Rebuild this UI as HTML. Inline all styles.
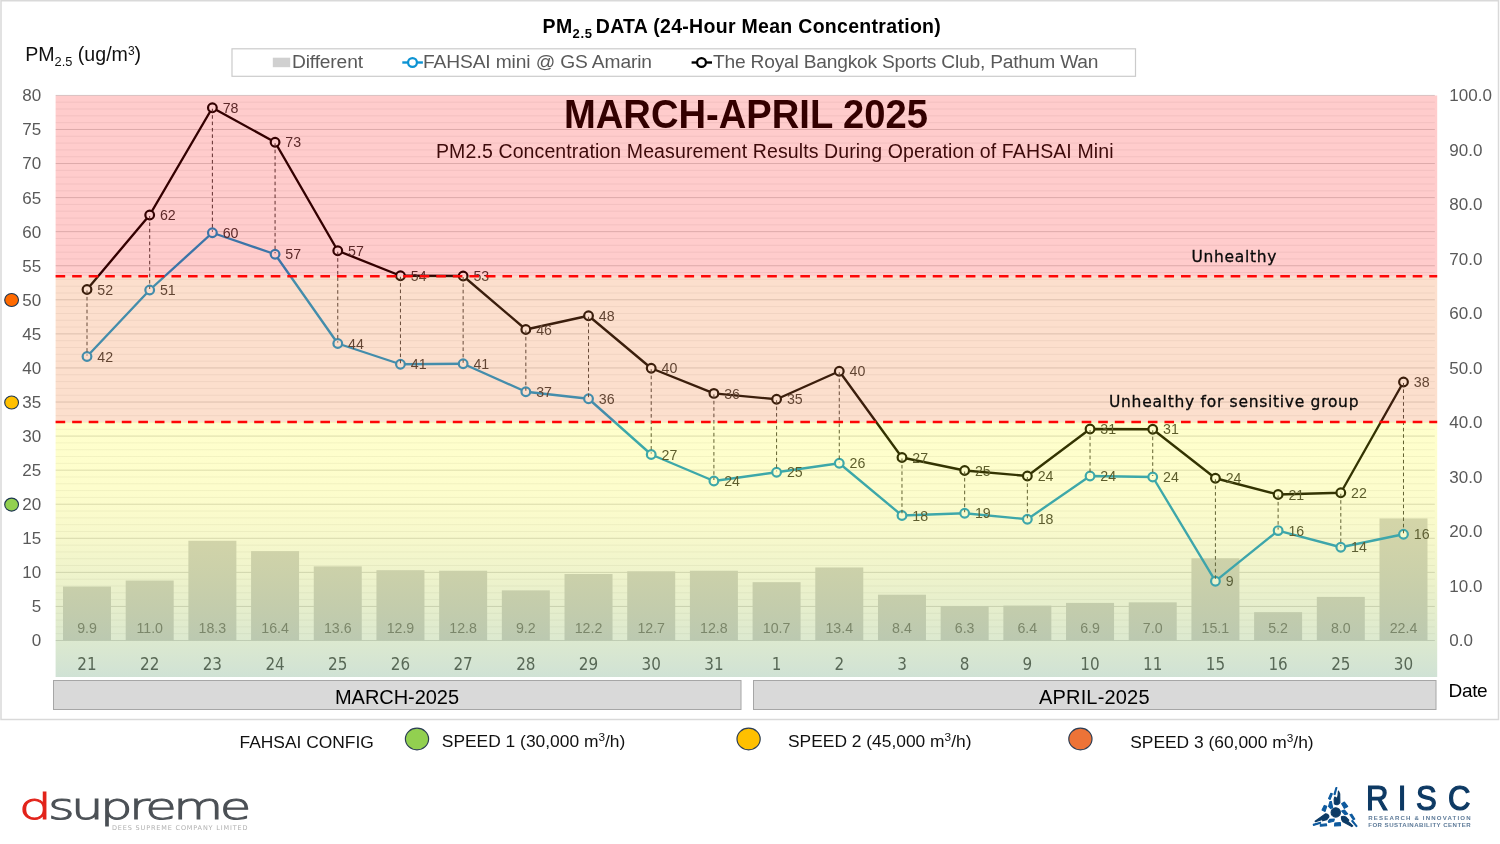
<!DOCTYPE html>
<html lang="en"><head><meta charset="utf-8"><title>PM2.5 DATA (24-Hour Mean Concentration)</title>
<style>html,body{margin:0;padding:0;background:#fff;}body{width:1500px;height:844px;overflow:hidden;font-family:"Liberation Sans", Arial, Helvetica, sans-serif;}svg{display:block;font-family:"Liberation Sans", Arial, Helvetica, sans-serif;will-change:transform;}</style>
</head><body>
<svg width="1500" height="844" viewBox="0 0 1500 844">
<defs>
<linearGradient id="yg" x1="0" y1="0" x2="0" y2="1"><stop offset="0" stop-color="#ffff00" stop-opacity="0.2"/><stop offset="0.27" stop-color="#f5f50c" stop-opacity="0.21"/><stop offset="0.46" stop-color="#dbe22a" stop-opacity="0.24"/><stop offset="0.70" stop-color="#aec84f" stop-opacity="0.29"/><stop offset="0.855" stop-color="#95bc6e" stop-opacity="0.33"/><stop offset="1" stop-color="#7cae8a" stop-opacity="0.36"/></linearGradient>
</defs>
<rect x="0" y="0" width="1500" height="844" fill="#ffffff"/>
<rect x="1" y="0.75" width="1497.5" height="718.75" fill="#ffffff" stroke="#d9d9d9" stroke-width="1.5"/>
<g stroke="#f1f1f1" stroke-width="1">
<line x1="55.66" y1="633.69" x2="1434.84" y2="633.69"/>
<line x1="55.66" y1="626.87" x2="1434.84" y2="626.87"/>
<line x1="55.66" y1="620.06" x2="1434.84" y2="620.06"/>
<line x1="55.66" y1="613.25" x2="1434.84" y2="613.25"/>
<line x1="55.66" y1="599.62" x2="1434.84" y2="599.62"/>
<line x1="55.66" y1="592.80" x2="1434.84" y2="592.80"/>
<line x1="55.66" y1="585.99" x2="1434.84" y2="585.99"/>
<line x1="55.66" y1="579.18" x2="1434.84" y2="579.18"/>
<line x1="55.66" y1="565.55" x2="1434.84" y2="565.55"/>
<line x1="55.66" y1="558.74" x2="1434.84" y2="558.74"/>
<line x1="55.66" y1="551.92" x2="1434.84" y2="551.92"/>
<line x1="55.66" y1="545.11" x2="1434.84" y2="545.11"/>
<line x1="55.66" y1="531.48" x2="1434.84" y2="531.48"/>
<line x1="55.66" y1="524.67" x2="1434.84" y2="524.67"/>
<line x1="55.66" y1="517.85" x2="1434.84" y2="517.85"/>
<line x1="55.66" y1="511.04" x2="1434.84" y2="511.04"/>
<line x1="55.66" y1="497.41" x2="1434.84" y2="497.41"/>
<line x1="55.66" y1="490.60" x2="1434.84" y2="490.60"/>
<line x1="55.66" y1="483.78" x2="1434.84" y2="483.78"/>
<line x1="55.66" y1="476.97" x2="1434.84" y2="476.97"/>
<line x1="55.66" y1="463.34" x2="1434.84" y2="463.34"/>
<line x1="55.66" y1="456.53" x2="1434.84" y2="456.53"/>
<line x1="55.66" y1="449.71" x2="1434.84" y2="449.71"/>
<line x1="55.66" y1="442.90" x2="1434.84" y2="442.90"/>
<line x1="55.66" y1="429.27" x2="1434.84" y2="429.27"/>
<line x1="55.66" y1="422.46" x2="1434.84" y2="422.46"/>
<line x1="55.66" y1="415.65" x2="1434.84" y2="415.65"/>
<line x1="55.66" y1="408.83" x2="1434.84" y2="408.83"/>
<line x1="55.66" y1="395.20" x2="1434.84" y2="395.20"/>
<line x1="55.66" y1="388.39" x2="1434.84" y2="388.39"/>
<line x1="55.66" y1="381.58" x2="1434.84" y2="381.58"/>
<line x1="55.66" y1="374.76" x2="1434.84" y2="374.76"/>
<line x1="55.66" y1="361.14" x2="1434.84" y2="361.14"/>
<line x1="55.66" y1="354.32" x2="1434.84" y2="354.32"/>
<line x1="55.66" y1="347.51" x2="1434.84" y2="347.51"/>
<line x1="55.66" y1="340.69" x2="1434.84" y2="340.69"/>
<line x1="55.66" y1="327.07" x2="1434.84" y2="327.07"/>
<line x1="55.66" y1="320.25" x2="1434.84" y2="320.25"/>
<line x1="55.66" y1="313.44" x2="1434.84" y2="313.44"/>
<line x1="55.66" y1="306.63" x2="1434.84" y2="306.63"/>
<line x1="55.66" y1="293.00" x2="1434.84" y2="293.00"/>
<line x1="55.66" y1="286.18" x2="1434.84" y2="286.18"/>
<line x1="55.66" y1="279.37" x2="1434.84" y2="279.37"/>
<line x1="55.66" y1="272.56" x2="1434.84" y2="272.56"/>
<line x1="55.66" y1="258.93" x2="1434.84" y2="258.93"/>
<line x1="55.66" y1="252.12" x2="1434.84" y2="252.12"/>
<line x1="55.66" y1="245.30" x2="1434.84" y2="245.30"/>
<line x1="55.66" y1="238.49" x2="1434.84" y2="238.49"/>
<line x1="55.66" y1="224.86" x2="1434.84" y2="224.86"/>
<line x1="55.66" y1="218.05" x2="1434.84" y2="218.05"/>
<line x1="55.66" y1="211.23" x2="1434.84" y2="211.23"/>
<line x1="55.66" y1="204.42" x2="1434.84" y2="204.42"/>
<line x1="55.66" y1="190.79" x2="1434.84" y2="190.79"/>
<line x1="55.66" y1="183.98" x2="1434.84" y2="183.98"/>
<line x1="55.66" y1="177.16" x2="1434.84" y2="177.16"/>
<line x1="55.66" y1="170.35" x2="1434.84" y2="170.35"/>
<line x1="55.66" y1="156.72" x2="1434.84" y2="156.72"/>
<line x1="55.66" y1="149.91" x2="1434.84" y2="149.91"/>
<line x1="55.66" y1="143.10" x2="1434.84" y2="143.10"/>
<line x1="55.66" y1="136.28" x2="1434.84" y2="136.28"/>
<line x1="55.66" y1="122.65" x2="1434.84" y2="122.65"/>
<line x1="55.66" y1="115.84" x2="1434.84" y2="115.84"/>
<line x1="55.66" y1="109.03" x2="1434.84" y2="109.03"/>
<line x1="55.66" y1="102.21" x2="1434.84" y2="102.21"/>
</g>
<g stroke="#d5d5d5" stroke-width="1">
<line x1="55.66" y1="640.50" x2="1434.84" y2="640.50"/>
<line x1="55.66" y1="606.43" x2="1434.84" y2="606.43"/>
<line x1="55.66" y1="572.36" x2="1434.84" y2="572.36"/>
<line x1="55.66" y1="538.29" x2="1434.84" y2="538.29"/>
<line x1="55.66" y1="504.23" x2="1434.84" y2="504.23"/>
<line x1="55.66" y1="470.16" x2="1434.84" y2="470.16"/>
<line x1="55.66" y1="436.09" x2="1434.84" y2="436.09"/>
<line x1="55.66" y1="402.02" x2="1434.84" y2="402.02"/>
<line x1="55.66" y1="367.95" x2="1434.84" y2="367.95"/>
<line x1="55.66" y1="333.88" x2="1434.84" y2="333.88"/>
<line x1="55.66" y1="299.81" x2="1434.84" y2="299.81"/>
<line x1="55.66" y1="265.74" x2="1434.84" y2="265.74"/>
<line x1="55.66" y1="231.67" x2="1434.84" y2="231.67"/>
<line x1="55.66" y1="197.61" x2="1434.84" y2="197.61"/>
<line x1="55.66" y1="163.54" x2="1434.84" y2="163.54"/>
<line x1="55.66" y1="129.47" x2="1434.84" y2="129.47"/>
<line x1="55.66" y1="95.40" x2="1434.84" y2="95.40"/>
</g>
<g fill="#cecfd1">
<rect x="63.00" y="586.54" width="48" height="53.96"/>
<rect x="125.69" y="580.54" width="48" height="59.96"/>
<rect x="188.38" y="540.75" width="48" height="99.75"/>
<rect x="251.07" y="551.10" width="48" height="89.40"/>
<rect x="313.76" y="566.37" width="48" height="74.13"/>
<rect x="376.45" y="570.18" width="48" height="70.32"/>
<rect x="439.14" y="570.73" width="48" height="69.77"/>
<rect x="501.83" y="590.35" width="48" height="50.15"/>
<rect x="564.52" y="574.00" width="48" height="66.50"/>
<rect x="627.21" y="571.27" width="48" height="69.23"/>
<rect x="689.90" y="570.73" width="48" height="69.77"/>
<rect x="752.59" y="582.17" width="48" height="58.33"/>
<rect x="815.28" y="567.46" width="48" height="73.04"/>
<rect x="877.97" y="594.71" width="48" height="45.79"/>
<rect x="940.66" y="606.16" width="48" height="34.34"/>
<rect x="1003.35" y="605.61" width="48" height="34.89"/>
<rect x="1066.04" y="602.89" width="48" height="37.61"/>
<rect x="1128.73" y="602.34" width="48" height="38.16"/>
<rect x="1191.42" y="558.19" width="48" height="82.31"/>
<rect x="1254.11" y="612.15" width="48" height="28.35"/>
<rect x="1316.80" y="596.89" width="48" height="43.61"/>
<rect x="1379.49" y="518.40" width="48" height="122.10"/>
</g>
<g font-size="14.2" fill="#6c6c6c" text-anchor="middle">
<text x="87.00" y="632.8">9.9</text>
<text x="149.69" y="632.8">11.0</text>
<text x="212.38" y="632.8">18.3</text>
<text x="275.07" y="632.8">16.4</text>
<text x="337.76" y="632.8">13.6</text>
<text x="400.45" y="632.8">12.9</text>
<text x="463.14" y="632.8">12.8</text>
<text x="525.83" y="632.8">9.2</text>
<text x="588.52" y="632.8">12.2</text>
<text x="651.21" y="632.8">12.7</text>
<text x="713.90" y="632.8">12.8</text>
<text x="776.59" y="632.8">10.7</text>
<text x="839.28" y="632.8">13.4</text>
<text x="901.97" y="632.8">8.4</text>
<text x="964.66" y="632.8">6.3</text>
<text x="1027.35" y="632.8">6.4</text>
<text x="1090.04" y="632.8">6.9</text>
<text x="1152.73" y="632.8">7.0</text>
<text x="1215.42" y="632.8">15.1</text>
<text x="1278.11" y="632.8">5.2</text>
<text x="1340.80" y="632.8">8.0</text>
<text x="1403.49" y="632.8">22.4</text>
</g>
<g font-size="17" fill="#595959" text-anchor="end">
<text x="41.2" y="646.40">0</text>
<text x="41.2" y="612.33">5</text>
<text x="41.2" y="578.26">10</text>
<text x="41.2" y="544.19">15</text>
<text x="41.2" y="510.12">20</text>
<text x="41.2" y="476.06">25</text>
<text x="41.2" y="441.99">30</text>
<text x="41.2" y="407.92">35</text>
<text x="41.2" y="373.85">40</text>
<text x="41.2" y="339.78">45</text>
<text x="41.2" y="305.71">50</text>
<text x="41.2" y="271.64">55</text>
<text x="41.2" y="237.57">60</text>
<text x="41.2" y="203.51">65</text>
<text x="41.2" y="169.44">70</text>
<text x="41.2" y="135.37">75</text>
<text x="41.2" y="101.30">80</text>
</g>
<g font-size="17" fill="#595959">
<text x="1449.3" y="646.40">0.0</text>
<text x="1449.3" y="591.89">10.0</text>
<text x="1449.3" y="537.38">20.0</text>
<text x="1449.3" y="482.87">30.0</text>
<text x="1449.3" y="428.36">40.0</text>
<text x="1449.3" y="373.85">50.0</text>
<text x="1449.3" y="319.34">60.0</text>
<text x="1449.3" y="264.83">70.0</text>
<text x="1449.3" y="210.32">80.0</text>
<text x="1449.3" y="155.81">90.0</text>
<text x="1449.3" y="101.30">100.0</text>
</g>
<g font-size="16.9" fill="#404040" text-anchor="middle" style="font-family:'DejaVu Sans Condensed', 'Liberation Sans', sans-serif">
<text x="87.00" y="670.1">21</text>
<text x="149.69" y="670.1">22</text>
<text x="212.38" y="670.1">23</text>
<text x="275.07" y="670.1">24</text>
<text x="337.76" y="670.1">25</text>
<text x="400.45" y="670.1">26</text>
<text x="463.14" y="670.1">27</text>
<text x="525.83" y="670.1">28</text>
<text x="588.52" y="670.1">29</text>
<text x="651.21" y="670.1">30</text>
<text x="713.90" y="670.1">31</text>
<text x="776.59" y="670.1">1</text>
<text x="839.28" y="670.1">2</text>
<text x="901.97" y="670.1">3</text>
<text x="964.66" y="670.1">8</text>
<text x="1027.35" y="670.1">9</text>
<text x="1090.04" y="670.1">10</text>
<text x="1152.73" y="670.1">11</text>
<text x="1215.42" y="670.1">15</text>
<text x="1278.11" y="670.1">16</text>
<text x="1340.80" y="670.1">25</text>
<text x="1403.49" y="670.1">30</text>
</g>
<text x="564" y="128.3" font-size="40" font-weight="bold" fill="#000" textLength="364" lengthAdjust="spacingAndGlyphs">MARCH-APRIL 2025</text>
<text x="436" y="157.6" font-size="19.5" fill="#0d0d0d" textLength="677.5" lengthAdjust="spacing">PM2.5 Concentration Measurement Results During Operation of FAHSAI Mini</text>
<polyline points="87.00,356.50 149.69,290.00 212.38,232.75 275.07,254.25 337.76,343.50 400.45,364.25 463.14,363.75 525.83,391.75 588.52,398.75 651.21,454.50 713.90,481.00 776.59,472.25 839.28,463.25 901.97,515.50 964.66,513.25 1027.35,519.25 1090.04,476.00 1152.73,477.00 1215.42,581.20 1278.11,530.60 1340.80,547.25 1403.49,534.25" fill="none" stroke="#0c93d3" stroke-width="2.35" stroke-linejoin="round"/>
<polyline points="87.00,289.50 149.69,215.00 212.38,107.75 275.07,142.25 337.76,250.75 400.45,275.75 463.14,276.00 525.83,329.50 588.52,315.75 651.21,368.25 713.90,393.40 776.59,399.25 839.28,371.25 901.97,457.50 964.66,470.50 1027.35,476.00 1090.04,429.00 1152.73,429.25 1215.42,478.25 1278.11,494.50 1340.80,492.75 1403.49,382.00" fill="none" stroke="#000000" stroke-width="2.35" stroke-linejoin="round"/>
<g fill="#ffffff" stroke="#0c93d3" stroke-width="2.2">
<circle cx="87.00" cy="356.50" r="4.35"/>
<circle cx="149.69" cy="290.00" r="4.35"/>
<circle cx="212.38" cy="232.75" r="4.35"/>
<circle cx="275.07" cy="254.25" r="4.35"/>
<circle cx="337.76" cy="343.50" r="4.35"/>
<circle cx="400.45" cy="364.25" r="4.35"/>
<circle cx="463.14" cy="363.75" r="4.35"/>
<circle cx="525.83" cy="391.75" r="4.35"/>
<circle cx="588.52" cy="398.75" r="4.35"/>
<circle cx="651.21" cy="454.50" r="4.35"/>
<circle cx="713.90" cy="481.00" r="4.35"/>
<circle cx="776.59" cy="472.25" r="4.35"/>
<circle cx="839.28" cy="463.25" r="4.35"/>
<circle cx="901.97" cy="515.50" r="4.35"/>
<circle cx="964.66" cy="513.25" r="4.35"/>
<circle cx="1027.35" cy="519.25" r="4.35"/>
<circle cx="1090.04" cy="476.00" r="4.35"/>
<circle cx="1152.73" cy="477.00" r="4.35"/>
<circle cx="1215.42" cy="581.20" r="4.35"/>
<circle cx="1278.11" cy="530.60" r="4.35"/>
<circle cx="1340.80" cy="547.25" r="4.35"/>
<circle cx="1403.49" cy="534.25" r="4.35"/>
</g>
<g fill="#ffffff" stroke="#000000" stroke-width="2.2">
<circle cx="87.00" cy="289.50" r="4.35"/>
<circle cx="149.69" cy="215.00" r="4.35"/>
<circle cx="212.38" cy="107.75" r="4.35"/>
<circle cx="275.07" cy="142.25" r="4.35"/>
<circle cx="337.76" cy="250.75" r="4.35"/>
<circle cx="400.45" cy="275.75" r="4.35"/>
<circle cx="463.14" cy="276.00" r="4.35"/>
<circle cx="525.83" cy="329.50" r="4.35"/>
<circle cx="588.52" cy="315.75" r="4.35"/>
<circle cx="651.21" cy="368.25" r="4.35"/>
<circle cx="713.90" cy="393.40" r="4.35"/>
<circle cx="776.59" cy="399.25" r="4.35"/>
<circle cx="839.28" cy="371.25" r="4.35"/>
<circle cx="901.97" cy="457.50" r="4.35"/>
<circle cx="964.66" cy="470.50" r="4.35"/>
<circle cx="1027.35" cy="476.00" r="4.35"/>
<circle cx="1090.04" cy="429.00" r="4.35"/>
<circle cx="1152.73" cy="429.25" r="4.35"/>
<circle cx="1215.42" cy="478.25" r="4.35"/>
<circle cx="1278.11" cy="494.50" r="4.35"/>
<circle cx="1340.80" cy="492.75" r="4.35"/>
<circle cx="1403.49" cy="382.00" r="4.35"/>
</g>
<g stroke="#3a3a3a" stroke-width="1" stroke-dasharray="3.6 2.8">
<line x1="87.00" y1="290.50" x2="87.00" y2="355.50"/>
<line x1="149.69" y1="216.00" x2="149.69" y2="289.00"/>
<line x1="212.38" y1="108.75" x2="212.38" y2="231.75"/>
<line x1="275.07" y1="143.25" x2="275.07" y2="253.25"/>
<line x1="337.76" y1="251.75" x2="337.76" y2="342.50"/>
<line x1="400.45" y1="276.75" x2="400.45" y2="363.25"/>
<line x1="463.14" y1="277.00" x2="463.14" y2="362.75"/>
<line x1="525.83" y1="330.50" x2="525.83" y2="390.75"/>
<line x1="588.52" y1="316.75" x2="588.52" y2="397.75"/>
<line x1="651.21" y1="369.25" x2="651.21" y2="453.50"/>
<line x1="713.90" y1="394.40" x2="713.90" y2="480.00"/>
<line x1="776.59" y1="400.25" x2="776.59" y2="471.25"/>
<line x1="839.28" y1="372.25" x2="839.28" y2="462.25"/>
<line x1="901.97" y1="458.50" x2="901.97" y2="514.50"/>
<line x1="964.66" y1="471.50" x2="964.66" y2="512.25"/>
<line x1="1027.35" y1="477.00" x2="1027.35" y2="518.25"/>
<line x1="1090.04" y1="430.00" x2="1090.04" y2="475.00"/>
<line x1="1152.73" y1="430.25" x2="1152.73" y2="476.00"/>
<line x1="1215.42" y1="479.25" x2="1215.42" y2="580.20"/>
<line x1="1278.11" y1="495.50" x2="1278.11" y2="529.60"/>
<line x1="1340.80" y1="493.75" x2="1340.80" y2="546.25"/>
<line x1="1403.49" y1="383.00" x2="1403.49" y2="533.25"/>
</g>
<g font-size="14.2" fill="#343434">
<text x="97.30" y="294.70">52</text>
<text x="97.30" y="361.70">42</text>
<text x="159.99" y="220.20">62</text>
<text x="159.99" y="295.20">51</text>
<text x="222.68" y="112.95">78</text>
<text x="222.68" y="237.95">60</text>
<text x="285.37" y="147.45">73</text>
<text x="285.37" y="259.45">57</text>
<text x="348.06" y="255.95">57</text>
<text x="348.06" y="348.70">44</text>
<text x="410.75" y="280.95">54</text>
<text x="410.75" y="369.45">41</text>
<text x="473.44" y="281.20">53</text>
<text x="473.44" y="368.95">41</text>
<text x="536.13" y="334.70">46</text>
<text x="536.13" y="396.95">37</text>
<text x="598.82" y="320.95">48</text>
<text x="598.82" y="403.95">36</text>
<text x="661.51" y="373.45">40</text>
<text x="661.51" y="459.70">27</text>
<text x="724.20" y="398.60">36</text>
<text x="724.20" y="486.20">24</text>
<text x="786.89" y="404.45">35</text>
<text x="786.89" y="477.45">25</text>
<text x="849.58" y="376.45">40</text>
<text x="849.58" y="468.45">26</text>
<text x="912.27" y="462.70">27</text>
<text x="912.27" y="520.70">18</text>
<text x="974.96" y="475.70">25</text>
<text x="974.96" y="518.45">19</text>
<text x="1037.65" y="481.20">24</text>
<text x="1037.65" y="524.45">18</text>
<text x="1100.34" y="434.20">31</text>
<text x="1100.34" y="481.20">24</text>
<text x="1163.03" y="434.45">31</text>
<text x="1163.03" y="482.20">24</text>
<text x="1225.72" y="483.45">24</text>
<text x="1225.72" y="586.40">9</text>
<text x="1288.41" y="499.70">21</text>
<text x="1288.41" y="535.80">16</text>
<text x="1351.10" y="497.95">22</text>
<text x="1351.10" y="552.45">14</text>
<text x="1413.79" y="387.20">38</text>
<text x="1413.79" y="539.45">16</text>
</g>
<rect x="55.60" y="95.5" width="1381.60" height="180.75" fill="#ff0000" fill-opacity="0.2"/>
<rect x="55.60" y="276.25" width="1381.60" height="145.75" fill="#f47a30" fill-opacity="0.245"/>
<rect x="55.60" y="422" width="1381.60" height="255.00" fill="url(#yg)"/>
<g stroke="#fd0606" stroke-width="2.7" stroke-dasharray="9.6 6.95">
<line x1="55.60" y1="276.25" x2="1437.20" y2="276.25"/>
<line x1="55.60" y1="422" x2="1437.20" y2="422"/>
</g>
<g font-size="15.5" fill="#0a0a0a" stroke="#0a0a0a" stroke-width="0.3" style="font-family:'DejaVu Sans', 'Liberation Sans', sans-serif">
<text x="1191.5" y="262" textLength="85" lengthAdjust="spacing">Unhealthy</text>
<text x="1109" y="407.4" textLength="249.5" lengthAdjust="spacing">Unhealthy for sensitive group</text>
</g>
<g fill="#d9d9d9" stroke="#a6a6a6" stroke-width="1">
<rect x="53.5" y="680.5" width="687.5" height="29"/>
<rect x="753.5" y="680.5" width="682.5" height="29"/>
</g>
<g font-size="20" fill="#000">
<text x="335" y="704.4" textLength="124" lengthAdjust="spacing">MARCH-2025</text>
<text x="1039" y="704.4" textLength="110.5" lengthAdjust="spacing">APRIL-2025</text>
</g>
<text x="1448.6" y="696.6" font-size="19" fill="#000" textLength="39" lengthAdjust="spacing">Date</text>
<text x="542.6" y="32.6" font-size="19.5" font-weight="bold" fill="#000" letter-spacing="0.3">PM<tspan font-size="13" dy="5.5" letter-spacing="0.7">2.5</tspan><tspan dy="-5.5" dx="-2.6"> DATA (24-Hour Mean Concentration)</tspan></text>
<text x="25.2" y="61.4" font-size="19.6" fill="#111">PM<tspan font-size="12.8" dy="4.6">2.5</tspan><tspan dy="-4.6"> (ug/m</tspan><tspan font-size="12" dy="-6.6">3</tspan><tspan dy="6.6">)</tspan></text>
<rect x="232" y="48.8" width="903.5" height="27.5" fill="#fff" stroke="#cbcbcb" stroke-width="1.2"/>
<rect x="272.8" y="57.7" width="17.4" height="9.5" fill="#d0d0d0"/>
<g font-size="19.2" fill="#595959">
<text x="292" y="68.4" textLength="71" lengthAdjust="spacing">Different</text>
<text x="423" y="68.4" textLength="229" lengthAdjust="spacing">FAHSAI mini @ GS Amarin</text>
<text x="713" y="68.4" textLength="385.5" lengthAdjust="spacing">The Royal Bangkok Sports Club, Pathum Wan</text>
</g>
<line x1="402.3" y1="62.5" x2="422.9" y2="62.5" stroke="#0c93d3" stroke-width="2.4"/><circle cx="412.5" cy="62.5" r="4.4" fill="#fff" stroke="#0c93d3" stroke-width="2.2"/>
<line x1="691.6" y1="62.5" x2="712" y2="62.5" stroke="#000" stroke-width="2.4"/><circle cx="701.5" cy="62.5" r="4.4" fill="#fff" stroke="#000" stroke-width="2.2"/>
<g stroke="#1d3550" stroke-width="1.1">
<ellipse cx="11.6" cy="300" rx="6.9" ry="6.5" fill="#ff6a00"/>
<ellipse cx="11.6" cy="402.5" rx="6.9" ry="6.5" fill="#ffc000"/>
<ellipse cx="11.6" cy="504.6" rx="6.9" ry="6.5" fill="#92d050"/>
</g>
<g font-size="17.4" fill="#111">
<text x="239.5" y="747.7">FAHSAI CONFIG</text>
<text x="441.8" y="746.8">SPEED 1 (30,000 m<tspan font-size="11.8" dy="-5.5">3</tspan><tspan dy="5.5">/h)</tspan></text>
<text x="788" y="746.5">SPEED 2 (45,000 m<tspan font-size="11.8" dy="-5.5">3</tspan><tspan dy="5.5">/h)</tspan></text>
<text x="1130.2" y="747.5">SPEED 3 (60,000 m<tspan font-size="11.8" dy="-5.5">3</tspan><tspan dy="5.5">/h)</tspan></text>
</g>
<g stroke="#2c3e55" stroke-width="1.2">
<ellipse cx="417" cy="739" rx="11.6" ry="10.8" fill="#92d050"/>
<ellipse cx="748.6" cy="739" rx="11.6" ry="10.8" fill="#ffc000"/>
<ellipse cx="1080.4" cy="739" rx="11.6" ry="10.8" fill="#ed7337"/>
</g>
<g id="dsupreme">
<g transform="translate(18.9 818.8) scale(1.485 1)" font-size="34.6" font-weight="200" letter-spacing="-2.45" stroke-width="0.95" style="font-family:'DejaVu Sans','Liberation Sans',sans-serif">
<text x="0" y="0"><tspan fill="#e2231a" stroke="#e2231a">d</tspan><tspan fill="#4b5055" stroke="#4b5055">supreme</tspan></text>
</g>
<text x="112" y="829.8" font-size="6.5" fill="#b0b0b0" textLength="135.5" lengthAdjust="spacing" style="font-family:'DejaVu Sans','Liberation Sans',sans-serif">DEES SUPREME COMPANY LIMITED</text>
</g>
<g id="risc">
<g transform="translate(1308 782) scale(0.05685)" stroke-linejoin="round" stroke-width="20">
<g fill="#0d3b66" stroke="#0d3b66">
<path d="M535 160 L558 205 L560 365 Q520 425 464 385 L460 300 L472 264 L494 276 L508 300 L526 250 Z"/>
<circle cx="488" cy="535" r="82"/>
<path d="M125 690 L305 560 Q365 565 368 612 L330 662 L258 683 L268 655 L132 697 Z"/>
<path d="M588 612 Q622 592 664 616 L718 670 L700 690 L788 772 L770 784 L640 714 Q584 690 588 612 Z"/>
</g>
<g fill="#0e5a9e" stroke="#0e5a9e">
<path d="M492 98 L508 98 L476 222 L458 214 Z"/>
<path d="M402 198 L428 206 L390 306 L362 290 Z"/>
<path d="M386 346 L410 342 L434 450 L400 468 L362 430 Z"/>
<path d="M286 412 L330 426 L300 518 L247 494 Z"/>
<path d="M592 382 L640 352 L698 430 L640 464 Z"/>
<path d="M592 512 L640 492 L698 560 L650 574 Z"/>
<path d="M737 576 L768 566 L823 650 L796 664 Z"/>
<path d="M767 686 L785 677 L863 775 L850 784 Z"/>
<path d="M357 690 L382 657 L463 652 L454 690 L366 713 Z"/>
<path d="M472 722 L568 712 L573 768 L467 773 Z"/>
<path d="M217 747 L323 737 L328 768 L217 778 Z"/>
<path d="M93 746 L218 707 L223 725 L97 764 Z"/>
</g>
</g>
<text transform="translate(1365.9 810.1) scale(0.9 1)" x="0 35.5 55.7 91.2" y="0" font-size="34.5" fill="#0e3a64" stroke="#0e3a64" stroke-width="1.25">RISC</text>
<g font-size="6.1" font-weight="bold" fill="#5d7a98">
<text x="1368.2" y="819.7" textLength="102.4" lengthAdjust="spacing">RESEARCH &amp; INNOVATION</text>
<text x="1368.2" y="826.7" textLength="102.4" lengthAdjust="spacing">FOR SUSTAINABILITY CENTER</text>
</g>
</g>

</svg></body></html>
